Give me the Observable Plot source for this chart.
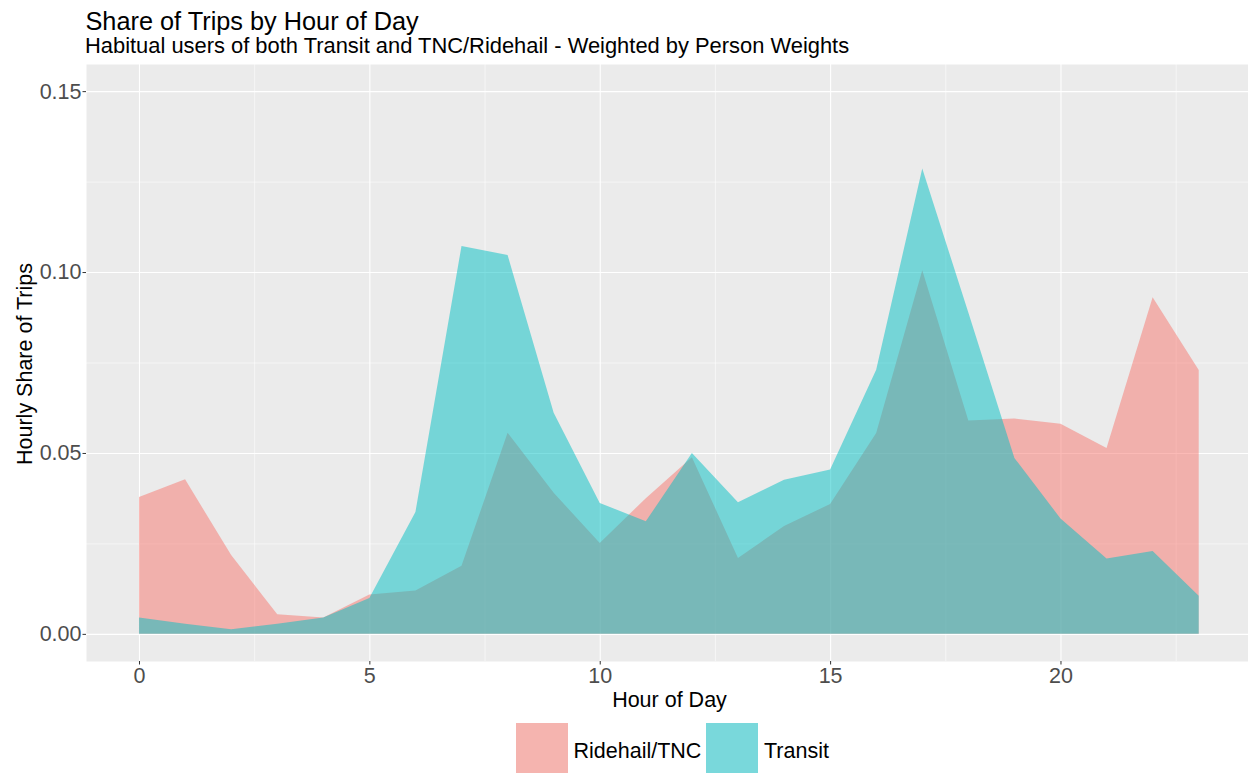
<!DOCTYPE html>
<html>
<head>
<meta charset="utf-8">
<script src="https://cdn.jsdelivr.net/npm/d3@7"></script>
<script src="https://cdn.jsdelivr.net/npm/@observablehq/plot@0.6"></script>
<style>
  html, body { margin: 0; padding: 0; background: #ffffff; }
  body { width: 1248px; height: 773px; position: relative; overflow: hidden; font-family: "Liberation Sans", Arial, sans-serif; }
  .abs { position: absolute; white-space: nowrap; }
  #title { left: 85.5px; top: 8.6px; font-size: 25.3px; line-height: 25.3px; color: #000; }
  #subtitle { left: 85px; top: 34.8px; font-size: 21.9px; line-height: 21.9px; color: #000; }
  #chart { position: absolute; left: 0; top: 64px; }
  #xtitle { left: 519.5px; width: 300px; top: 690.1px; text-align: center; font-size: 21.5px; line-height: 21.5px; color: #000; }
  #ytitle { left: -124.6px; width: 300px; top: 352.5px; text-align: center; font-size: 21.5px; line-height: 22px; color: #000; transform: rotate(-90deg); }
  .key { position: absolute; top: 723px; height: 53px; }
  .keylab { position: absolute; top: 740.5px; font-size: 21.5px; line-height: 21.5px; color: #000; white-space: nowrap; }
</style>
</head>
<body>
<div id="title" class="abs">Share of Trips by Hour of Day</div>
<div id="subtitle" class="abs">Habitual users of both Transit and TNC/Ridehail - Weighted by Person Weights</div>
<div id="chart"></div>
<div id="xtitle" class="abs">Hour of Day</div>
<div id="ytitle" class="abs">Hourly Share of Trips</div>
<div id="legend"></div>
<script>
// ---- data ----
const hours = [0,1,2,3,4,5,6,7,8,9,10,11,12,13,14,15,16,17,18,19,20,21,22,23];
const ridehailShare = [0.0378,0.0427,0.0218,0.0054,0.0045,0.0109,0.0120,0.0188,0.0556,0.0390,0.0251,0.0375,0.0488,0.0210,0.0298,0.0359,0.0555,0.1005,0.0590,0.0595,0.0581,0.0514,0.0930,0.0729];
const transitShare  = [0.0045,0.0028,0.0013,0.0028,0.0045,0.0099,0.0337,0.1072,0.1047,0.0611,0.0362,0.0311,0.0500,0.0364,0.0426,0.0454,0.0730,0.1286,0.0888,0.0486,0.0319,0.0208,0.0229,0.0105];
const modes = ["Ridehail/TNC", "Transit"];
const modeColors = ["#F8766D", "#00BFC4"];
const legendSwatch = ["#F5B4AF", "#79D8DB"];
const xTicks = [0,5,10,15,20];
const xMinor = [2.5,7.5,12.5,17.5,22.5];
const yTicks = [0,0.05,0.10,0.15];
const yMinor = [0.025,0.075,0.125];

const rows = [];
hours.forEach((h, i) => {
  rows.push({hour: h, share: ridehailShare[i], mode: modes[0]});
  rows.push({hour: h, share: transitShare[i], mode: modes[1]});
});

const chart = Plot.plot({
  width: 1248,
  height: 649,
  marginTop: 0,
  marginRight: 0,
  marginLeft: 86,
  marginBottom: 52,
  style: {fontFamily: "Liberation Sans, Arial, sans-serif", fontSize: "21.5px", background: "transparent", overflow: "visible"},
  x: {domain: [-1.15, 24.07]},
  y: {domain: [-0.0075, 0.1575]},
  marks: [
    Plot.frame({fill: "#EBEBEB", stroke: null}),
    Plot.gridX(xMinor, {stroke: "#ffffff", strokeOpacity: 1, strokeWidth: 0.55}),
    Plot.gridY(yMinor, {stroke: "#ffffff", strokeOpacity: 1, strokeWidth: 0.55}),
    Plot.gridX(xTicks, {stroke: "#ffffff", strokeOpacity: 1, strokeWidth: 1.1}),
    Plot.gridY(yTicks, {stroke: "#ffffff", strokeOpacity: 1, strokeWidth: 1.1}),
    Plot.areaY(rows, {filter: d => d.mode === modes[0], x: "hour", y1: 0, y2: "share", fill: modeColors[0], fillOpacity: 0.5}),
    Plot.areaY(rows, {filter: d => d.mode === modes[1], x: "hour", y1: 0, y2: "share", fill: modeColors[1], fillOpacity: 0.5}),
    Plot.axisX(xTicks, {label: null, tickSize: 3.5, tickPadding: 2.7, stroke: "#333333", fill: "#4D4D4D", tickFormat: d => String(d)}),
    Plot.axisY(yTicks, {label: null, tickSize: 3.5, tickPadding: 1.5, stroke: "#333333", fill: "#4D4D4D", tickFormat: d3.format(".2f")})
  ]
});
document.getElementById("chart").appendChild(chart);

// legend
const legend = document.getElementById("legend");
const keyLefts = [516, 706];
const keyLabelLefts = [573.5, 764];
modes.forEach((m, i) => {
  const k = document.createElement("div");
  k.className = "key";
  k.style.left = keyLefts[i] + "px";
  k.style.width = "52px";
  k.style.background = legendSwatch[i];
  legend.appendChild(k);
  const t = document.createElement("div");
  t.className = "keylab";
  t.style.left = keyLabelLefts[i] + "px";
  t.textContent = m;
  legend.appendChild(t);
});
</script>
</body>
</html>
